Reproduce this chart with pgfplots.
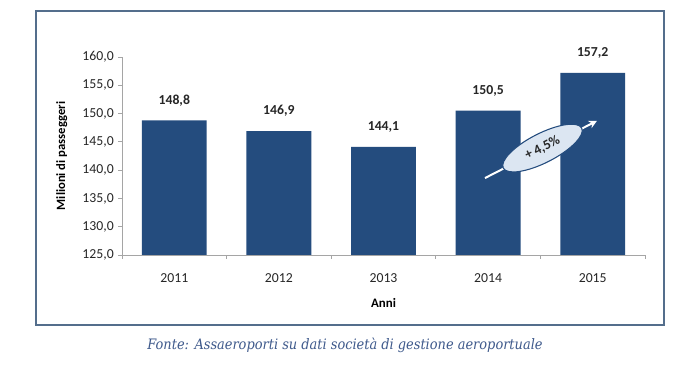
\documentclass[border=0pt]{standalone}
\usepackage{fontspec}
\setmainfont{Carlito}
\newfontfamily\capfont{DejaVu Serif Condensed}
\usepackage{pgfplots}
\pgfplotsset{compat=1.18}
\usetikzlibrary{arrows.meta,shapes.geometric}
\definecolor{barblue}{RGB}{36,76,126}
\definecolor{framecol}{RGB}{84,110,140}
\definecolor{capcol}{RGB}{63,90,140}
\definecolor{axgray}{RGB}{165,165,165}
\definecolor{ellfill}{RGB}{220,230,242}
\begin{document}
\begin{tikzpicture}
\useasboundingbox (0,0) rectangle (518.25pt,274.5pt);
\fill[white] (0,0) rectangle (518.25pt,274.5pt);
\draw[framecol, line width=1.2pt] (27pt,30.75pt) rectangle (498pt,266.25pt);
\begin{axis}[
  at={(91.5pt,83.25pt)}, anchor=south west,
  width=392.25pt, height=148.5pt, scale only axis,
  xmin=-0.5, xmax=4.5, ymin=125, ymax=160,
  axis x line*=bottom, axis y line*=left,
  axis line style={axgray, line width=0.6pt},
  xtick={0,1,2,3,4},
  xticklabels={2011,2012,2013,2014,2015},
  major x tick style={draw=none},
  minor xtick={-0.5,0.5,1.5,2.5,3.5,4.5},
  minor x tick style={axgray, line width=0.6pt},
  minor tick length=3pt,
  ytick={125,130,...,160},
  y tick style={axgray, line width=0.6pt},
  major tick length=3pt,
  tick align=outside,
  tick pos=left,
  /pgf/number format/.cd, fixed, fixed zerofill, precision=1, use comma, assume math mode=true,
  /pgfplots/.cd,
  ticklabel style={font=\fontsize{10.3}{12}\selectfont, text=black!85},
  xticklabel style={anchor=center, yshift=-14.5pt},
  yticklabel style={anchor=east, inner sep=0pt, xshift=-3pt},
  ylabel={\textbf{Milioni di passeggeri}},
  ylabel style={at={(axis description cs:-0.115,0.5)}, anchor=center, font=\fontsize{9.5}{11}\selectfont},
  xlabel={\textbf{Anni}},
  xlabel style={at={(axis description cs:0.5,-0.2424)}, anchor=center, font=\fontsize{9.7}{11}\selectfont},
  clip=false,
]
\addplot[ybar, bar width=0.62, fill=barblue, draw=none,
  nodes near coords, nodes near coords align={center},
  every node near coord/.append style={font=\bfseries\fontsize{10.3}{12}\selectfont, text=black!85, yshift=15pt},
] coordinates {(0,148.8) (1,146.9) (2,144.1) (3,150.5) (4,157.2)};
\draw[white, line width=1.5pt, -{Stealth[length=6pt,width=6pt]}] (axis cs:2.97,138.6) -- (axis cs:4.04,148.7);
\node[ellipse, draw=barblue, line width=0.8pt, fill=ellfill, minimum width=66pt, minimum height=22pt, rotate=27, inner sep=0pt,
  font=\bfseries\fontsize{10.3}{12}\selectfont, text=black!85]
  at (axis cs:3.52,143.9) {+ 4,5\%};
\end{axis}
\node[text=capcol, font=\capfont\itshape\fontsize{10.8}{12}\selectfont] at (258.75pt,15.5pt) {Fonte: Assaeroporti su dati società di gestione aeroportuale};
\end{tikzpicture}
\end{document}
